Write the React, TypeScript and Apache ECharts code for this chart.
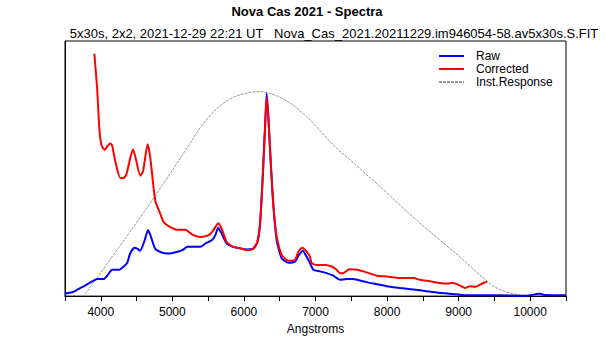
import React, { useEffect, useRef } from "react";
import * as echarts from "echarts";

const titleText = "Nova Cas 2021 - Spectra";
const subtitleText = "5x30s, 2x2, 2021-12-29 22:21 UT   Nova_Cas_2021.20211229.im946054-58.av5x30s.S.FIT";
const seriesNames = ["Raw", "Corrected", "Inst.Response"];
const xTickValues = [4000, 5000, 6000, 7000, 8000, 9000, 10000];

const rawWl = [3500, 3600, 3690, 3780, 3880, 3950, 4040, 4090, 4160, 4250, 4320, 4370, 4410, 4470, 4510, 4550, 4610, 4660, 4690, 4760, 4860, 4950, 5070, 5140, 5210, 5270, 5390, 5460, 5550, 5600, 5640, 5690, 5760, 5850, 5970, 6040, 6130, 6190, 6225, 6262, 6294, 6318, 6340, 6374, 6410, 6458, 6528, 6620, 6713, 6769, 6821, 6877, 6923, 6969, 7063, 7156, 7249, 7342, 7436, 7528, 7668, 7808, 7995, 8181, 8366, 8553, 8716, 8973, 9112, 9578, 9900, 9997, 10090, 10137, 10207, 10500];
const rawFlux = [1.0, 1.5, 2.8, 4.1, 5.8, 6.7, 6.7, 8.0, 10.3, 10.3, 11.6, 13.1, 16.7, 19.0, 18.6, 17.8, 21.6, 25.8, 24.2, 18.6, 17.0, 16.7, 17.4, 18.0, 19.3, 19.3, 19.3, 20.6, 21.9, 23.8, 26.8, 24.4, 20.6, 19.3, 18.6, 18.3, 18.6, 21.2, 28.3, 46.3, 65.6, 79.5, 70.8, 52.8, 36.0, 21.9, 14.8, 13.1, 13.5, 16.1, 17.8, 15.4, 12.9, 10.3, 9.7, 9.0, 8.0, 6.4, 6.7, 6.7, 5.8, 4.9, 3.9, 3.2, 2.6, 1.9, 1.3, 0.7, 0.3, 0.3, 0.1, 0.3, 0.8, 0.9, 0.4, 0.3];

const corrWl = [3910, 3950, 3980, 4010, 4055, 4087, 4133, 4157, 4203, 4273, 4320, 4356, 4412, 4450, 4482, 4552, 4590, 4655, 4692, 4762, 4832, 4879, 4971, 5065, 5181, 5274, 5386, 5502, 5572, 5642, 5689, 5759, 5851, 5969, 6039, 6131, 6187, 6225, 6262, 6294, 6318, 6340, 6374, 6410, 6458, 6528, 6620, 6713, 6760, 6816, 6877, 6923, 6947, 7017, 7133, 7226, 7296, 7342, 7388, 7472, 7576, 7715, 7855, 7995, 8181, 8366, 8460, 8600, 8740, 8833, 8925, 9019, 9089, 9158, 9228, 9298, 9368, 9396];
const corrFlux = [95.0, 81.1, 65.6, 59.2, 57.3, 58.6, 59.8, 59.2, 52.8, 46.3, 46.3, 47.6, 54.1, 57.5, 54.7, 47.2, 48.9, 59.5, 54.1, 37.3, 32.2, 29.0, 27.0, 26.0, 26.0, 24.2, 23.2, 23.8, 25.8, 28.6, 26.4, 21.2, 19.3, 18.6, 18.0, 18.6, 21.2, 28.3, 46.3, 65.6, 77.9, 70.8, 52.8, 36.0, 23.2, 16.1, 13.9, 14.2, 17.4, 19.0, 17.4, 15.4, 12.9, 12.2, 12.2, 11.6, 10.3, 9.0, 9.0, 10.5, 10.3, 9.3, 8.0, 7.7, 7.1, 7.1, 6.4, 5.8, 5.1, 4.9, 5.1, 4.1, 3.2, 3.9, 3.6, 4.5, 5.4, 5.8];

const respWl = [3779, 4250, 4711, 5293, 5386, 5620, 5851, 6085, 6197, 6318, 6550, 6783, 7017, 7249, 7482, 7715, 7947, 8181, 8366, 8740, 9065, 9344, 9532, 9763, 9903];
const respFlux = [0.7, 19.0, 37.3, 61.8, 65.9, 73.4, 77.9, 79.8, 80.1, 79.8, 77.2, 72.7, 66.3, 59.2, 53.4, 47.6, 41.8, 35.6, 30.9, 21.9, 14.2, 7.1, 3.2, 0.9, 0.4];

const FONT = "'Liberation Sans', Arial, sans-serif";

function pairs(xs: number[], ys: number[]) {
  return xs.map((x, i) => [x, ys[i]]);
}

export default function App() {
  const ref = useRef<HTMLDivElement>(null);
  useEffect(() => {
    if (!ref.current) return;
    const chart = echarts.init(ref.current, undefined, { renderer: "svg" });
    chart.setOption({
      animation: false,
      backgroundColor: "#ffffff",
      textStyle: { fontFamily: FONT },
      title: [
        {
          text: titleText,
          left: 307,
          top: 5,
          padding: 0,
          textAlign: "center",
          textStyle: { fontFamily: FONT, fontSize: 13, fontWeight: "bold", color: "#000" },
        },
        {
          text: subtitleText,
          left: 334,
          top: 27,
          padding: 0,
          textAlign: "center",
          textStyle: { fontFamily: FONT, fontSize: 13, fontWeight: "normal", color: "#000" },
        },
      ],
      legend: {
        data: seriesNames,
        orient: "vertical",
        left: 438,
        top: 45,
        padding: [5, 0, 0, 0],
        itemWidth: 25,
        itemHeight: 14,
        itemGap: 1,
        itemStyle: { opacity: 0 },
        textStyle: { fontFamily: FONT, fontSize: 12, color: "#000", padding: [0, 0, 0, 7] },
      },
      grid: {
        left: 65,
        right: 49,
        top: 41,
        bottom: 40,
        show: true,
        borderColor: "#000",
        borderWidth: 1,
        backgroundColor: "transparent",
      },
      xAxis: {
        type: "value",
        min: 3500,
        max: 10500,
        interval: 500,
        name: "Angstroms",
        nameLocation: "middle",
        nameGap: 25,
        nameTextStyle: { fontFamily: FONT, fontSize: 12, color: "#000" },
        axisLine: { show: true, onZero: false, lineStyle: { color: "#000", width: 1 } },
        axisTick: { show: true, length: 5, lineStyle: { color: "#000" } },
        axisLabel: {
          fontFamily: FONT,
          fontSize: 12,
          color: "#000",
          margin: 10,
          formatter: (v: number) => (xTickValues.indexOf(v) >= 0 ? String(v) : ""),
        },
        splitLine: { show: false },
      },
      yAxis: {
        type: "value",
        min: 0,
        max: 100,
        axisLine: { show: true, lineStyle: { color: "#000" } },
        axisTick: { show: false },
        axisLabel: { show: false },
        splitLine: { show: false },
      },
      series: [
        {
          name: seriesNames[2],
          type: "line",
          data: pairs(respWl, respFlux),
          symbol: "none",
          smooth: 0.4,
          lineStyle: { color: "#999999", width: 1, type: [3, 1] },
          itemStyle: { color: "#999999" },
          z: 1,
        },
        {
          name: seriesNames[0],
          type: "line",
          data: pairs(rawWl, rawFlux),
          symbol: "none",
          smooth: 0.2,
          lineStyle: { color: "#0000ff", width: 2 },
          itemStyle: { color: "#0000ff" },
          z: 2,
        },
        {
          name: seriesNames[1],
          type: "line",
          data: pairs(corrWl, corrFlux),
          symbol: "none",
          smooth: 0.2,
          lineStyle: { color: "#ff0000", width: 2 },
          itemStyle: { color: "#ff0000" },
          z: 3,
        },
      ],
    });
    return () => chart.dispose();
  }, []);
  return (
    <div
      ref={ref}
      style={{ position: "fixed", left: 0, top: 0, width: 615, height: 340, background: "#fff" }}
    />
  );
}
